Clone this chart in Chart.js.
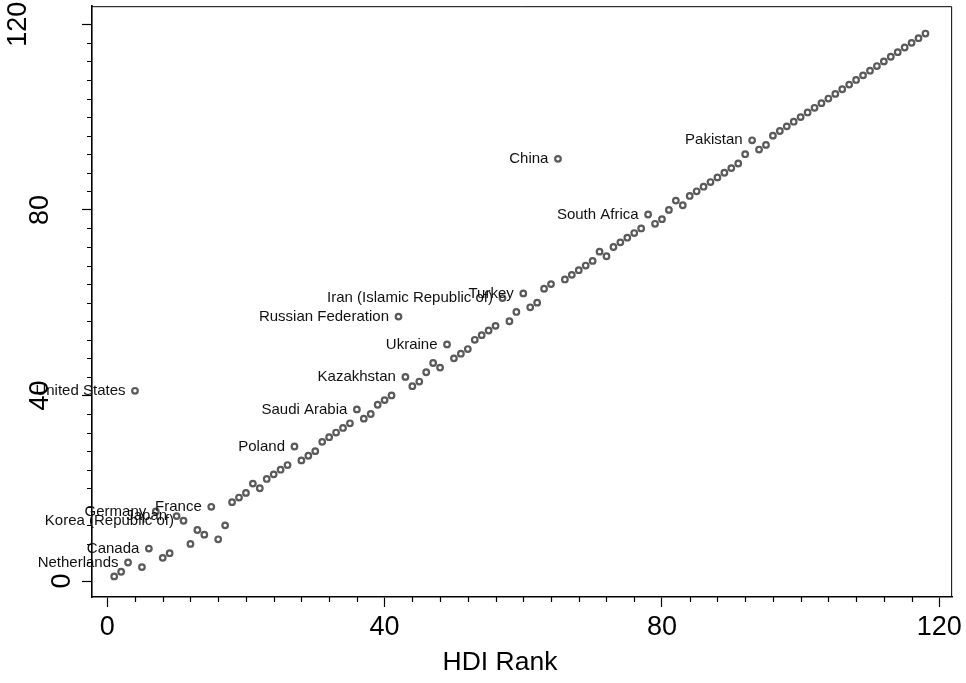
<!DOCTYPE html>
<html>
<head>
<meta charset="utf-8">
<script src="https://cdn.jsdelivr.net/npm/chart.js@4.4.1/dist/chart.umd.min.js"></script>
<style>
    html, body { margin: 0; padding: 0; background: #fff; }
</style>
</head>
<body>
<canvas id="hdi-chart" width="966" height="683"></canvas>
<script>
// x: HDI rank, y: rank on the second measure
const hdiRank = [
    1, 2, 3, 4, 5, 6, 7, 8, 9, 10, 11, 12, 13, 14, 15, 16, 17, 18, 19, 20,
    21, 22, 23, 24, 25, 26, 27, 28, 29, 30, 31, 32, 33, 34, 35, 36, 37, 38, 39, 40,
    41, 42, 43, 44, 45, 46, 47, 48, 49, 50, 51, 52, 53, 54, 55, 56, 57, 58, 59, 60,
    61, 62, 63, 64, 65, 66, 67, 68, 69, 70, 71, 72, 73, 74, 75, 76, 77, 78, 79, 80,
    81, 82, 83, 84, 85, 86, 87, 88, 89, 90, 91, 92, 93, 94, 95, 96, 97, 98, 99, 100,
    101, 102, 103, 104, 105, 106, 107, 108, 109, 110, 111, 112, 113, 114, 115, 116, 117, 118
];

const otherRank = [
    1, 2, 4, 41, 3, 7, 15, 5, 6, 14, 13, 8, 11, 10, 16, 9, 12, 17, 18, 19,
    21, 20, 22, 23, 24, 25, 29, 26, 27, 28, 30, 31, 32, 33, 34, 37, 35, 36, 38, 39,
    40, 57, 44, 42, 43, 45, 47, 46, 51, 48, 49, 50, 52, 53, 54, 55, 61, 56, 58, 62,
    59, 60, 63, 64, 91, 65, 66, 67, 68, 69, 71, 70, 72, 73, 74, 75, 76, 79, 77, 78,
    80, 82, 81, 83, 84, 85, 86, 87, 88, 89, 90, 92, 95, 93, 94, 96, 97, 98, 99, 100,
    101, 102, 103, 104, 105, 106, 107, 108, 109, 110, 111, 112, 113, 114, 115, 116, 117, 118
];

// names only shown for countries ranked higher on the second measure
const countryLabels = [
    '', '', 'Netherlands', 'United States', '', 'Canada', 'Germany', '', '', 'Japan',
    'Korea (Republic of)', '', '', '', 'France', '', '', '', '', '',
    '', '', '', '', '', '', 'Poland', '', '', '',
    '', '', '', '', '', 'Saudi Arabia', '', '', '', '',
    '', 'Russian Federation', 'Kazakhstan', '', '', '', '', '', 'Ukraine', '',
    '', '', '', '', '', '', 'Iran (Islamic Republic of)', '', '', 'Turkey',
    '', '', '', '', 'China', '', '', '', '', '',
    '', '', '', '', '', '', '', 'South Africa', '', '',
    '', '', '', '', '', '', '', '', '', '',
    '', '', 'Pakistan', '', '', '', '', '', '', '',
    '', '', '', '', '', '', '', '', '', '',
    '', '', '', '', '', '', '', ''
];

const xTickValues = [0, 40, 80, 120];
const yTickValues = [0, 40, 80, 120];
const minorStep = 4;
const xTitle = 'HDI Rank';

const FONT = '"Liberation Sans", Arial, Helvetica, sans-serif';
const MARKER_COLOR = '#5a5a5a';

// country names to the left of their marker
const pointLabels = {
    id: 'pointLabels',
    afterDatasetsDraw(chart) {
        const ctx = chart.ctx;
        const meta = chart.getDatasetMeta(0);
        ctx.save();
        ctx.font = '15px ' + FONT;
        ctx.fillStyle = '#111';
        ctx.textAlign = 'right';
        ctx.textBaseline = 'middle';
        meta.data.forEach((pt, i) => {
            if (countryLabels[i]) {
                ctx.fillText(countryLabels[i], pt.x - 9.5, pt.y);
            }
        });
        ctx.restore();
    }
};

// minor ticks, rotated y labels, x title, top/right frame
const axisExtras = {
    id: 'axisExtras',
    afterDraw(chart) {
        const { ctx, chartArea: area, scales: { x, y } } = chart;
        ctx.save();
        ctx.strokeStyle = '#000';
        ctx.lineWidth = 1;
        ctx.beginPath();
        ctx.moveTo(area.left, area.top + 0.5);
        ctx.lineTo(area.right - 0.5, area.top + 0.5);
        ctx.lineTo(area.right - 0.5, area.bottom);
        ctx.stroke();

        ctx.lineWidth = 1.2;
        ctx.beginPath();
        for (let v = minorStep; v < 120; v += minorStep) {
            if (v % 40 === 0) continue;
            const px = Math.round(x.getPixelForValue(v)) + 0.5;
            ctx.moveTo(px, area.bottom);
            ctx.lineTo(px, area.bottom + 5);
            const py = Math.round(y.getPixelForValue(v)) + 0.5;
            ctx.moveTo(area.left, py);
            ctx.lineTo(area.left - 5, py);
        }
        ctx.stroke();

        ctx.fillStyle = '#000';
        ctx.font = '27px ' + FONT;
        ctx.textAlign = 'center';
        ctx.textBaseline = 'middle';
        yTickValues.forEach(v => {
            const label = String(v);
            const cx = 62.5 - 22 * (label.length - 1);
            ctx.save();
            ctx.translate(cx, y.getPixelForValue(v));
            ctx.rotate(-Math.PI / 2);
            ctx.fillText(label, 0, 0);
            ctx.restore();
        });

        ctx.font = '26.5px ' + FONT;
        ctx.fillText(xTitle, 500, 663);
        ctx.restore();
    }
};

new Chart(document.getElementById('hdi-chart'), {
    type: 'scatter',
    data: {
        datasets: [{
            data: hdiRank.map((r, i) => ({ x: r, y: otherRank[i] })),
            pointStyle: 'circle',
            pointRadius: 2.8,
            pointBorderWidth: 2.2,
            pointBorderColor: MARKER_COLOR,
            pointBackgroundColor: '#fff',
            showLine: false
        }]
    },
    options: {
        responsive: false,
        animation: false,
        devicePixelRatio: 1,
        layout: { padding: { top: 5, right: 10, left: 0, bottom: 0 } },
        plugins: {
            legend: { display: false },
            tooltip: { enabled: false }
        },
        scales: {
            x: {
                type: 'linear',
                position: 'bottom',
                min: -2.2,
                max: 121.85,
                afterBuildTicks: scale => {
                    scale.ticks = xTickValues.map(v => ({ value: v }));
                },
                afterFit: scale => { scale.height = 86; },
                grid: {
                    drawOnChartArea: false,
                    drawTicks: true,
                    tickLength: 10,
                    tickWidth: 1.2,
                    tickColor: '#000'
                },
                border: { color: '#000', width: 1.6 },
                ticks: {
                    color: '#000',
                    font: { family: FONT, size: 27 },
                    padding: 4,
                    maxRotation: 0,
                    autoSkip: false
                }
            },
            y: {
                type: 'linear',
                position: 'left',
                min: -3.44,
                max: 123.9,
                afterBuildTicks: scale => {
                    scale.ticks = yTickValues.map(v => ({ value: v }));
                },
                afterFit: scale => { scale.width = 92; },
                grid: {
                    drawOnChartArea: false,
                    drawTicks: true,
                    tickLength: 10,
                    tickWidth: 1.2,
                    tickColor: '#000'
                },
                border: { color: '#000', width: 1.6 },
                ticks: { display: false }
            }
        }
    },
    plugins: [pointLabels, axisExtras]
});
</script>
</body>
</html>
